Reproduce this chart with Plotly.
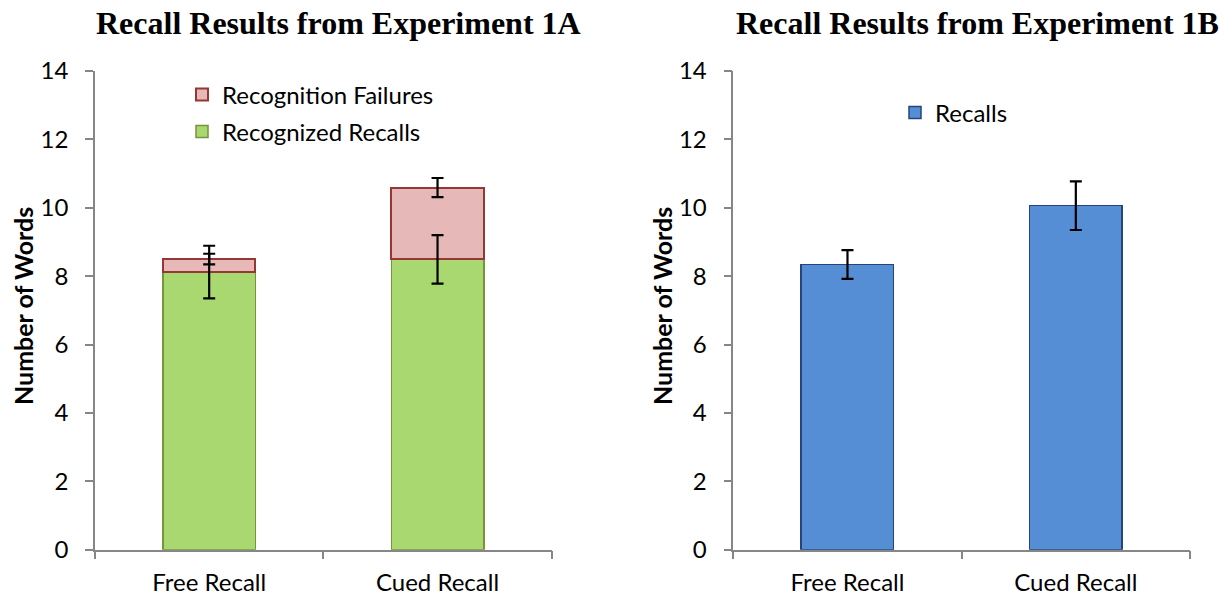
import plotly.graph_objects as go

# ---- data ----
conditions = ["Free Recall", "Cued Recall"]

# Experiment 1A (stacked)
recognized_recalls = [8.12, 8.49]
recognized_err = [0.77, 0.71]
recognition_failures = [0.38, 2.10]
failures_err = [0.155, 0.28]

# Experiment 1B
recalls_1b = [8.34, 10.06]
recalls_1b_err = [0.42, 0.71]

y_ticks = [0, 2, 4, 6, 8, 10, 12, 14]

# ---- styling ----
W, H = 1226, 597
BODY_FONT = "Lato"
TITLE_FONT = "Liberation Serif"
AXIS_GRAY = "#868686"

GREEN_FILL, GREEN_LINE = "#A9D870", "#77933C"
PINK_FILL, PINK_LINE = "#E6B9B8", "#953735"
BLUE_FILL, BLUE_LINE = "#558ED5", "#254479"


def px_x(p):
    return p / W


def px_y(p):
    return 1 - p / H


fig = go.Figure()

# Experiment 1A stacked bars
fig.add_trace(go.Bar(
    x=conditions, y=recognized_recalls, name="Recognized Recalls",
    marker=dict(color=GREEN_FILL, line=dict(color=GREEN_LINE, width=1.5)),
    xaxis="x", yaxis="y", legend="legend2",
))
fig.add_trace(go.Bar(
    x=conditions, y=recognition_failures, name="Recognition Failures",
    marker=dict(color=PINK_FILL, line=dict(color=PINK_LINE, width=2)),
    xaxis="x", yaxis="y", legend="legend",
))

# Error bars for 1A, drawn above both bar layers
stack_tops = [g + f for g, f in zip(recognized_recalls, recognition_failures)]
err_style = dict(type="data", color="black", thickness=2.2, width=6)
fig.add_trace(go.Scatter(
    x=conditions, y=recognized_recalls, mode="markers",
    marker=dict(size=0.1, opacity=0),
    error_y=dict(array=recognized_err, **err_style),
    xaxis="x", yaxis="y", showlegend=False, hoverinfo="skip",
))
fig.add_trace(go.Scatter(
    x=conditions, y=stack_tops, mode="markers",
    marker=dict(size=0.1, opacity=0),
    error_y=dict(array=failures_err, **err_style),
    xaxis="x", yaxis="y", showlegend=False, hoverinfo="skip",
))

# Experiment 1B bars
fig.add_trace(go.Bar(
    x=conditions, y=recalls_1b, name="Recalls",
    marker=dict(color=BLUE_FILL, line=dict(color=BLUE_LINE, width=1.5)),
    xaxis="x2", yaxis="y2", legend="legend3",
))
fig.add_trace(go.Scatter(
    x=conditions, y=recalls_1b, mode="markers",
    marker=dict(size=0.1, opacity=0),
    error_y=dict(array=recalls_1b_err, **err_style),
    xaxis="x2", yaxis="y2", showlegend=False, hoverinfo="skip",
))

y_dom = [px_y(549.7), px_y(71)]

xaxis_common = dict(
    type="category", range=[-0.5, 1.5], tickson="boundaries",
    ticks="outside", ticklen=8, tickwidth=1.5, tickcolor=AXIS_GRAY,
    showline=True, linecolor=AXIS_GRAY, linewidth=1.5,
    showgrid=False, zeroline=False, ticklabelstandoff=11,
    tickfont=dict(family=BODY_FONT, size=24, color="black"),
    fixedrange=True, automargin=False,
)
yaxis_common = dict(
    range=[0, 14], tickvals=y_ticks, domain=y_dom,
    ticks="outside", ticklen=8, tickwidth=1.5, tickcolor=AXIS_GRAY,
    showline=True, linecolor=AXIS_GRAY, linewidth=1.5,
    showgrid=False, zeroline=False, ticklabelstandoff=12,
    tickfont=dict(family=BODY_FONT, size=24, color="black"),
    fixedrange=True, automargin=False,
)

legend_common = dict(
    bgcolor="rgba(0,0,0,0)", borderwidth=0,
    font=dict(family=BODY_FONT, size=24, color="black"),
    xanchor="left", yanchor="middle",
    itemclick=False, itemdoubleclick=False,
)

fig.update_layout(
    width=W, height=H,
    margin=dict(l=0, r=0, t=0, b=0, autoexpand=False),
    paper_bgcolor="white", plot_bgcolor="white",
    barmode="stack", bargap=0.595,
    xaxis=dict(domain=[px_x(95), px_x(551.7)], anchor="y", **xaxis_common),
    yaxis=dict(anchor="x", **yaxis_common),
    xaxis2=dict(domain=[px_x(733.3), px_x(1190)], anchor="y2", **xaxis_common),
    yaxis2=dict(anchor="x2", **yaxis_common),
    legend=dict(x=px_x(182), y=px_y(95), **legend_common),
    legend2=dict(x=px_x(182), y=px_y(132), **legend_common),
    legend3=dict(x=px_x(895), y=px_y(113), **legend_common),
    showlegend=True,
)

# Panel titles
for text, cx in [("Recall Results from Experiment 1A", 339),
                 ("Recall Results from Experiment 1B", 977.5)]:
    fig.add_annotation(
        text=f"<b>{text}</b>", xref="paper", yref="paper",
        x=px_x(cx), y=px_y(23), xanchor="center", yanchor="middle",
        showarrow=False,
        font=dict(family=TITLE_FONT, size=32, color="black"),
    )

# Y-axis titles
for cx in [23, 662]:
    fig.add_annotation(
        text="<b>Number of Words</b>", xref="paper", yref="paper",
        x=px_x(cx), y=px_y(306), xanchor="center", yanchor="middle",
        textangle=-90, showarrow=False,
        font=dict(family=BODY_FONT, size=25, color="black"),
    )

fig.write_html("out.html")
